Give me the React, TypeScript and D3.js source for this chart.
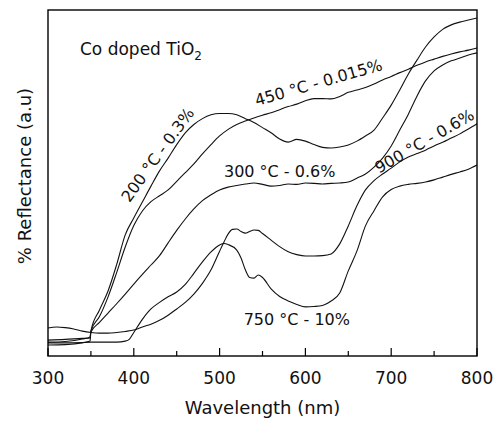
import React from 'react';
import * as d3 from 'd3';

// wavelength grid (nm); the 349/350 pair carries the detector-change step
const wl = [300, 320, 340, 349, 350, 360, 370, 380, 390, 400, 410, 420, 430, 440, 450, 460, 470, 480, 490, 500,
  510, 520, 530, 540, 550, 560, 570, 580, 590, 600, 610, 620, 630, 640, 650, 660, 670, 680, 690, 700,
  710, 720, 730, 740, 750, 760, 770, 780, 790, 800];

const r200 = [4.0, 4.2, 4.9, 5.5, 7.2, 13.3, 18.8, 26.4, 35.0, 39.9, 44.5, 49.1, 53.5, 57.2, 61.1, 64.5, 66.9, 68.6, 69.7, 70.1,
  70.1, 69.7, 68.6, 67.5, 66.0, 64.5, 62.7, 61.8, 62.6, 62.1, 61.1, 60.3, 60.1, 60.4, 61.0, 62.1, 63.6, 65.3, 68.8, 72.5,
  76.9, 81.5, 85.5, 89.3, 92.2, 94.4, 95.7, 96.5, 97.1, 97.7];

const r450 = [4.6, 4.8, 5.1, 5.2, 7.2, 11.4, 17.1, 24.1, 31.5, 37.7, 41.9, 44.6, 46.3, 48.0, 50.5, 53.0, 55.5, 58.4, 61.1, 63.6,
  65.5, 66.9, 67.9, 68.8, 69.6, 70.3, 71.2, 72.1, 72.8, 73.8, 74.4, 74.4, 74.3, 75.0, 76.2, 76.9, 77.6, 78.6, 79.8, 80.8,
  81.9, 82.9, 84.0, 85.0, 85.8, 86.6, 87.3, 87.9, 88.4, 89.0];

const r300 = [3.2, 3.3, 3.8, 4.3, 6.9, 9.7, 12.4, 15.1, 17.9, 20.8, 23.6, 26.3, 29.0, 32.7, 36.3, 39.6, 42.5, 44.9, 46.6, 48.0,
  48.8, 49.3, 49.7, 50.0, 49.6, 49.1, 49.3, 49.7, 49.6, 50.0, 49.9, 49.7, 49.9, 50.0, 50.3, 51.4, 52.6, 54.6, 57.2, 60.7,
  65.3, 69.9, 75.1, 79.5, 82.4, 84.1, 85.3, 86.1, 87.0, 87.6];

// the two high-temperature samples have finer structure around 500-560 nm
const wl750 = [300, 320, 340, 350, 360, 370, 380, 390, 395, 400, 410, 420, 430, 440, 450, 460, 470, 480, 490, 500,
  505, 510, 520, 525, 530, 535, 540, 545, 550, 560, 570, 580, 590, 600, 610, 620, 630, 640, 650, 660,
  670, 680, 690, 700, 710, 720, 730, 740, 750, 760, 770, 780, 790, 800];
const r750 = [3.8, 3.8, 3.9, 4.0, 4.0, 4.0, 4.0, 4.3, 4.9, 6.8, 10.6, 13.6, 15.5, 17.1, 18.5, 20.7, 23.9, 27.2, 30.1, 32.1,
  32.5, 32.2, 30.6, 28.3, 24.9, 22.7, 22.5, 23.4, 22.7, 19.4, 17.2, 15.9, 14.9, 14.2, 14.3, 14.6, 15.9, 18.2, 24.6, 30.3,
  37.6, 42.0, 46.0, 48.1, 49.1, 49.6, 49.9, 50.3, 50.9, 51.7, 52.5, 53.2, 54.0, 55.2];

const wl900 = [300, 310, 320, 330, 340, 350, 360, 370, 380, 390, 400, 410, 420, 430, 440, 450, 460, 470, 480, 490,
  500, 505, 510, 515, 520, 525, 530, 535, 540, 545, 550, 560, 570, 580, 590, 600, 610, 620, 630, 640,
  650, 660, 670, 680, 690, 700, 710, 720, 730, 740, 750, 760, 770, 780, 790, 800];
const r900 = [8.1, 8.4, 8.2, 7.8, 7.2, 6.8, 6.6, 6.6, 6.8, 7.1, 7.5, 8.4, 9.2, 10.3, 11.8, 13.6, 15.5, 17.9, 21.0, 24.9,
  30.3, 32.9, 35.3, 36.6, 36.7, 36.0, 35.5, 36.0, 36.4, 36.3, 35.4, 33.5, 31.6, 30.1, 29.3, 28.9, 28.9, 29.0, 29.5, 32.4,
  37.6, 43.4, 48.0, 50.7, 52.6, 54.3, 56.1, 57.5, 58.5, 59.5, 60.7, 61.8, 63.0, 64.2, 65.6, 67.1];

const series = [
  { name: '200', x: wl, y: r200 },
  { name: '450', x: wl, y: r450 },
  { name: '300', x: wl, y: r300 },
  { name: '750', x: wl750, y: r750 },
  { name: '900', x: wl900, y: r900 },
];

// curve labels: text, anchor (wavelength, reflectance), rotation
const labels = [
  { text: '200 °C - 0.3%', x: 433, y: 57.2, angle: -54 },
  { text: '450 °C - 0.015%', x: 617, y: 77.5, angle: -16 },
  { text: '300 °C - 0.6%', x: 570, y: 51.7, angle: 0 },
  { text: '900 °C - 0.6%', x: 742, y: 60.7, angle: -30 },
  { text: '750 °C - 10%', x: 590, y: 9.0, angle: 0 },
];

const majorTicks = [300, 400, 500, 600, 700, 800];
const minorTicks = [350, 450, 550, 650, 750];

const W = 495, H = 422;
const M = { left: 48, right: 18, top: 10, bottom: 66 };
const FONT = '"DejaVu Sans", Verdana, sans-serif';

export default function App() {
  const x = d3.scaleLinear().domain([300, 800]).range([M.left, W - M.right]);
  const y = d3.scaleLinear().domain([0, 100]).range([H - M.bottom, M.top]);
  const line = d3.line<[number, number]>()
    .x(d => x(d[0]))
    .y(d => y(d[1]))
    .curve(d3.curveMonotoneX);

  const x0 = M.left, x1 = W - M.right, y0 = M.top, y1 = H - M.bottom;

  return (
    <svg width={W} height={H} style={{ position: 'absolute', left: 0, top: 0, background: '#fff' }}
      fontFamily={FONT}>
      <rect x={0} y={0} width={W} height={H} fill="#fff" />

      {series.map(s => (
        <path key={s.name}
          d={line(s.x.map((v, i) => [v, s.y[i]] as [number, number])) || ''}
          fill="none" stroke="#111" strokeWidth={1.1} />
      ))}

      {/* frame */}
      <rect x={x0} y={y0} width={x1 - x0} height={y1 - y0} fill="none" stroke="#000" strokeWidth={1.4} />

      {/* ticks, pointing in */}
      {majorTicks.map(t => (
        <g key={t}>
          <line x1={x(t)} x2={x(t)} y1={y1} y2={y1 - 8} stroke="#000" strokeWidth={1.2} />
          <text x={x(t)} y={384} textAnchor="middle" fontSize={17} fill="#111">{t}</text>
        </g>
      ))}
      {minorTicks.map(t => (
        <line key={t} x1={x(t)} x2={x(t)} y1={y1} y2={y1 - 5} stroke="#000" strokeWidth={1.2} />
      ))}

      {/* axis titles */}
      <text x={(x0 + x1) / 2} y={414} textAnchor="middle" fontSize={18} fill="#111">Wavelength (nm)</text>
      <text transform={`translate(31,176) rotate(-90)`} textAnchor="middle" fontSize={18} fill="#111">
        % Reflectance (a.u)
      </text>

      {/* sample title */}
      <text x={80} y={55} fontSize={17} fill="#111">
        Co doped TiO<tspan fontSize={12} dy={5}>2</tspan>
      </text>

      {labels.map(l => (
        <text key={l.text}
          transform={`translate(${x(l.x)},${y(l.y)}) rotate(${l.angle})`}
          textAnchor="middle" fontSize={16} fill="#111">
          {l.text}
        </text>
      ))}
    </svg>
  );
}
